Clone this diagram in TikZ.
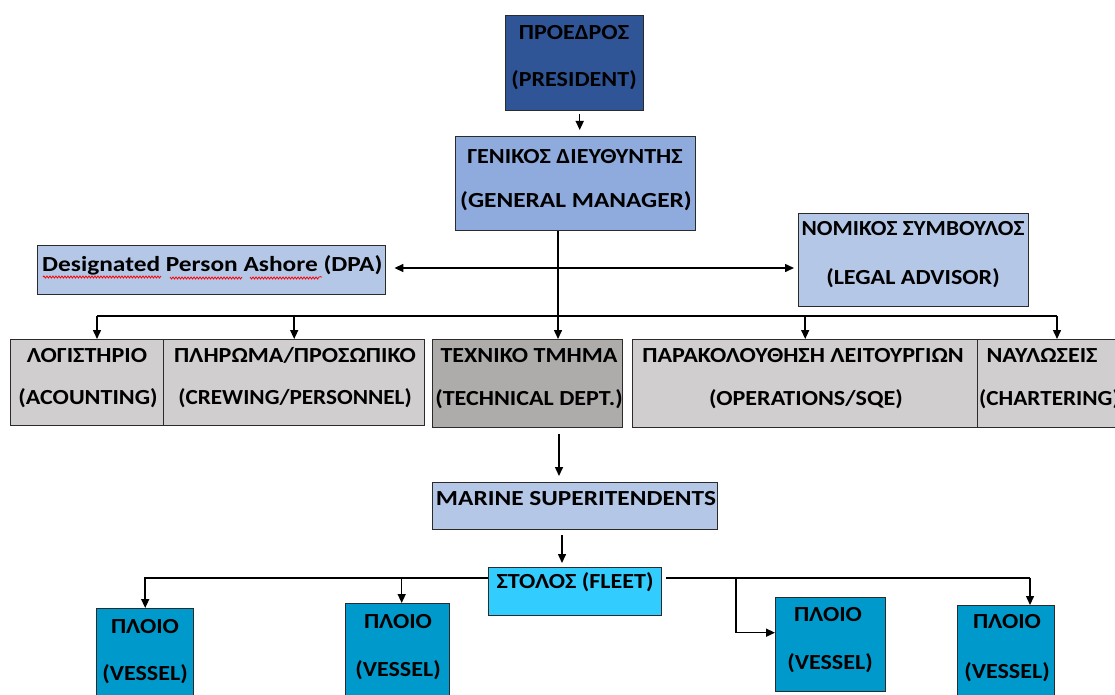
\documentclass[tikz,border=0pt]{standalone}
\usepackage{fontspec}
\setmainfont{Carlito}
\newfontfamily\cb{Carlito}[FakeStretch=1.12]
\newfontfamily\cbw{Carlito}[FakeStretch=1.18]
\newfontfamily\cbn{Carlito}[FakeStretch=1.08]
\usetikzlibrary{arrows.meta,decorations.pathmorphing}
\definecolor{cPres}{HTML}{2F5597}
\definecolor{cGM}{HTML}{8FAADC}
\definecolor{cLight}{HTML}{B4C7E7}
\definecolor{cGrey}{HTML}{D0CECE}
\definecolor{cTech}{HTML}{AEABAB}
\definecolor{cFleet}{HTML}{33CCFF}
\definecolor{cVessel}{HTML}{0099CC}
\definecolor{cBorder}{HTML}{2B2B2B}
\newcommand{\mkbox}[6]{\node[boxstyle,fill=#6,minimum width={#4pt-#2pt},minimum height={#5pt-#3pt},anchor=north west] (#1) at (#2,#3) {};}
\begin{document}
\begin{tikzpicture}[x=1pt,y=-1pt,
  boxstyle/.style={draw=cBorder,line width=1.4pt,inner sep=0pt,rectangle},
  txt/.style={font=\cb\bfseries\fontsize{21.5}{24}\selectfont,inner sep=0pt,anchor=base},
  txtw/.style={txt,font=\cbw\bfseries\fontsize{21.5}{24}\selectfont},
  txtn/.style={txt,font=\cbn\bfseries\fontsize{21.5}{24}\selectfont},
  conn/.style={draw=black,line width=1.5pt},
  arr/.style={conn,-{Triangle[length=9pt,width=8pt]}},
  darr/.style={conn,{Triangle[length=9pt,width=8pt]}-{Triangle[length=9pt,width=8pt]}}]
\useasboundingbox (0,0) rectangle (1115,695);
\clip (0,0) rectangle (1115,695);
% boxes
\mkbox{pres}{505}{15}{643}{110}{cPres}
\mkbox{gm}{455}{136}{695}{230}{cGM}
\mkbox{dpa}{37}{245}{385}{294}{cLight}
\mkbox{legal}{798}{213}{1028}{306}{cLight}
\mkbox{acc}{10}{339}{163}{425}{cGrey}
\mkbox{crew}{163}{339}{424}{425}{cGrey}
\mkbox{tech}{432}{339}{622}{427}{cTech}
\mkbox{ops}{632}{339}{977}{427}{cGrey}
\mkbox{chart}{977}{339}{1140}{427}{cGrey}
\mkbox{ms}{432}{482}{717}{529}{cLight}
\mkbox{fleet}{488}{567}{661}{615}{cFleet}
\mkbox{va}{96}{608}{193}{720}{cVessel}
\mkbox{vb}{345}{603}{449}{720}{cVessel}
\mkbox{vc}{775}{597}{885}{691}{cVessel}
\mkbox{vd}{957}{605}{1054}{720}{cVessel}
% texts
\node[txt] (t1) at (574,40) {ΠΡΟΕΔΡΟΣ};
\node[txt] (t2) at (574,87) {(PRESIDENT)};
\node[txt] (t3) at (575,164) {ΓΕΝΙΚΟΣ ΔΙΕΥΘΥΝΤΗΣ};
\node[txtw] (t4) at (576,207) {(GENERAL MANAGER)};
\node[txtw,anchor=base west] (t5) at (42,271) {Designated Person Ashore (DPA)};
\node[txtn] (t6) at (913,235) {ΝΟΜΙΚΟΣ ΣΥΜΒΟΥΛΟΣ};
\node[txt] (t7) at (913,284) {(LEGAL ADVISOR)};
\node[txt] (t8) at (87,362) {ΛΟΓΙΣΤΗΡΙΟ};
\node[txt] (t9) at (88,404) {(ACOUNTING)};
\node[txt] (t10) at (295,362) {ΠΛΗΡΩΜΑ/ΠΡΟΣΩΠΙΚΟ};
\node[txtn] (t11) at (295,404) {(CREWING/PERSONNEL)};
\node[txt] (t12) at (529,362) {ΤΕΧΝΙΚΟ ΤΜΗΜΑ};
\node[txt] (t13) at (529,405) {(TECHNICAL DEPT.)};
\node[txt] (t14) at (803,362) {ΠΑΡΑΚΟΛΟΥΘΗΣΗ ΛΕΙΤΟΥΡΓΙΩΝ};
\node[txt] (t15) at (806,405) {(OPERATIONS/SQE)};
\node[txt] (t16) at (1042,362) {ΝΑΥΛΩΣΕΙΣ};
\node[txtn,anchor=base west] (t17) at (979,405) {(CHARTERING)};
\node[txtw] (t18) at (576,505) {MARINE SUPERITENDENTS};
\node[txt] (t19) at (575,588) {ΣΤΟΛΟΣ (FLEET)};
\node[txt] (t20) at (145,633) {ΠΛΟΙΟ};
\node[txt] (t21) at (145,680) {(VESSEL)};
\node[txt] (t22) at (398,628) {ΠΛΟΙΟ};
\node[txt] (t23) at (398,676) {(VESSEL)};
\node[txt] (t24) at (828,621) {ΠΛΟΙΟ};
\node[txt] (t25) at (830,669) {(VESSEL)};
\node[txt] (t26) at (1007,628) {ΠΛΟΙΟ};
\node[txt] (t27) at (1007,678) {(VESSEL)};
% spell-check underline
\draw[red,line width=0.8pt,decorate,decoration={snake,amplitude=1pt,segment length=3pt}] (43,277) -- (160,277) (170,277) -- (242,277) (250,277) -- (322,277);
% connectors
\draw[arr,shorten <=3pt,shorten >=6pt] ([xshift=5pt]pres.south) -- ([xshift=5pt]pres.south |- gm.north);
\coordinate (busL) at (97,316);
\coordinate (busM) at (558,316);
\coordinate (busR) at (1057,316);
\draw[conn] (busL) -- (busR);
\draw[arr] (gm.south -| busM) -- (tech.north -| busM);
\draw[darr,shorten <=8pt,shorten >=4pt] (dpa.east |- 0,268) -- (legal.west |- 0,268);
\draw[arr] (busL) -- (busL |- acc.north);
\draw[arr] (crew.north |- busL) -- (crew.north);
\draw[arr] (ops.north |- busL) -- (ops.north);
\draw[arr] (busR) -- (busR |- chart.north);
\coordinate (msx) at (559,0);
\draw[arr,shorten <=6pt,shorten >=6pt] (tech.south -| msx) -- (ms.north -| msx);
\coordinate (flx) at (562,0);
\draw[arr,shorten <=5pt,shorten >=4pt] (ms.south -| flx) -- (fleet.north -| flx);
\coordinate (flL) at (488,578);
\coordinate (flR) at (666,578);
\coordinate (vdx) at (1030,578);
\coordinate (vcx) at (736,578);
\draw[arr] (flL) -| (va.north);
\draw[arr] ([xshift=4pt]vb.north |- flL) -- ([xshift=4pt]vb.north);
\draw[conn] (flR) -- (vdx);
\draw[arr] (vdx) -- (vdx |- vd.north);
\draw[arr] (vcx) |- ([yshift=12pt]vc.west);
\end{tikzpicture}
\end{document}
